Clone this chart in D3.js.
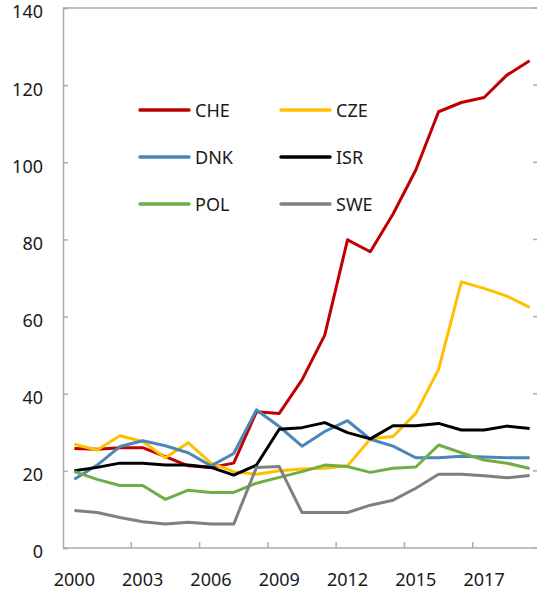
<!DOCTYPE html>
<html>
<head>
<meta charset="utf-8">
<script src="https://cdn.jsdelivr.net/npm/d3@7"></script>
<style>
  body{margin:0;background:#fff;}
  svg{display:block;}
  text{font-family:"Noto Sans","Open Sans",sans-serif;fill:#1a1a1a;}
</style>
</head>
<body>
<svg width="537" height="592"></svg>
<script>
// 21 categories, labelled every third one
var categories=d3.range(21);
var tickLabels=["2000","2003","2006","2009","2012","2015","2017"];
var yTicks=[0,20,40,60,80,100,120,140];

var CHE=[25.8,25.6,26,26,23.7,21.3,20.9,22,35.3,34.9,43.6,55.2,79.9,76.8,86.6,98.0,113.1,115.5,116.8,122.6,126.3];
var CZE=[26.9,25.4,29.1,27.6,23.4,27.3,22.0,19.8,19.1,20.0,20.5,20.7,21.3,28.3,28.9,34.9,46.3,69.0,67.3,65.3,62.4];
var DNK=[17.8,21.5,26.3,27.8,26.5,24.7,21.3,24.5,35.8,31.5,26.4,30.2,33.0,28.2,26.4,23.4,23.4,23.8,23.6,23.4,23.4];
var ISR=[20.0,20.9,22.0,22.0,21.5,21.5,20.9,18.9,21.5,30.8,31.2,32.5,29.9,28.3,31.7,31.7,32.3,30.6,30.6,31.6,31.0];
var POL=[19.8,17.8,16.2,16.2,12.6,15.0,14.4,14.4,16.8,18.3,19.8,21.5,21.1,19.6,20.7,21.0,26.7,24.7,22.8,22.0,20.6];
var SWE=[9.7,9.2,7.9,6.8,6.2,6.7,6.2,6.2,20.9,21.1,9.2,9.2,9.2,11.1,12.4,15.5,19.1,19.1,18.7,18.2,18.8];

var series=[
  {name:"CHE",values:CHE,color:"#c00000"},
  {name:"CZE",values:CZE,color:"#ffc000"},
  {name:"DNK",values:DNK,color:"#4a86b8"},
  {name:"ISR",values:ISR,color:"#000000"},
  {name:"POL",values:POL,color:"#70ad47"},
  {name:"SWE",values:SWE,color:"#808080"}
];

var svg=d3.select("svg");
var plotLeft=63,plotRight=541,plotTop=8,plotBottom=548;
var axisColor="#adadad";

var x=d3.scaleBand().domain(categories).range([plotLeft,plotRight]);
var y=d3.scaleLinear().domain([0,140]).range([plotBottom,plotTop]);
var bw=x.bandwidth();

// top frame line; right axis sits past the edge, only its ticks show
svg.append("line").attr("x1",plotLeft).attr("x2",plotRight).attr("y1",plotTop).attr("y2",plotTop)
  .attr("stroke",axisColor).attr("stroke-width",1.5);
svg.selectAll("line.rtick").data(yTicks).enter().append("line")
  .attr("class","rtick")
  .attr("x1",plotRight-8).attr("x2",plotRight)
  .attr("y1",function(d){return y(d);}).attr("y2",function(d){return y(d);})
  .attr("stroke",axisColor).attr("stroke-width",1.5);

// left axis
var yAxis=d3.axisLeft(y).tickValues(yTicks).tickSize(-5).tickPadding(20);
var yGroup=svg.append("g").attr("transform","translate("+plotLeft+",0)").call(yAxis);
yGroup.select(".domain").attr("stroke",axisColor).attr("stroke-width",1.5);
yGroup.selectAll(".tick line").attr("stroke",axisColor).attr("stroke-width",1.5);
yGroup.selectAll(".tick text").style("font-size","18px").attr("fill","#1a1a1a")
  .attr("dy","0.55em");

// bottom axis: ticks between groups of three categories
svg.append("line").attr("x1",plotLeft).attr("x2",plotRight).attr("y1",plotBottom).attr("y2",plotBottom)
  .attr("stroke",axisColor).attr("stroke-width",1.5);
var tickIdx=categories.filter(function(d){return d>0 && d%3===0;});
svg.selectAll("line.xtick").data(tickIdx).enter().append("line")
  .attr("class","xtick")
  .attr("x1",function(d){return x(d);}).attr("x2",function(d){return x(d);})
  .attr("y1",plotBottom).attr("y2",plotBottom-6)
  .attr("stroke",axisColor).attr("stroke-width",1.5);
svg.selectAll("text.xlab").data(tickLabels).enter().append("text")
  .attr("class","xlab")
  .attr("x",function(d,i){return x(i*3)+bw/2;})
  .attr("y",586)
  .attr("text-anchor","middle")
  .style("font-size","18px")
  .text(function(d){return d;});

// lines
var line=d3.line()
  .x(function(d,i){return x(i)+bw/2;})
  .y(function(d){return y(d);});
svg.selectAll("path.series").data(series).enter().append("path")
  .attr("class","series")
  .attr("d",function(d){return line(d.values);})
  .attr("fill","none")
  .attr("stroke",function(d){return d.color;})
  .attr("stroke-width",3)
  .attr("stroke-linejoin","round");

// legend, two columns
var legend=svg.selectAll("g.legend").data(series).enter().append("g")
  .attr("class","legend")
  .attr("transform",function(d,i){
    var col=i%2,row=Math.floor(i/2);
    return "translate("+(140+col*141)+","+(110+row*47)+")";
  });
legend.append("line").attr("x1",0).attr("x2",49).attr("y1",0).attr("y2",0)
  .attr("stroke",function(d){return d.color;}).attr("stroke-width",3.5)
  .attr("stroke-linecap","round");
legend.append("text").attr("x",55).attr("y",7)
  .style("font-size","18px")
  .text(function(d){return d.name;});
</script>
</body>
</html>
